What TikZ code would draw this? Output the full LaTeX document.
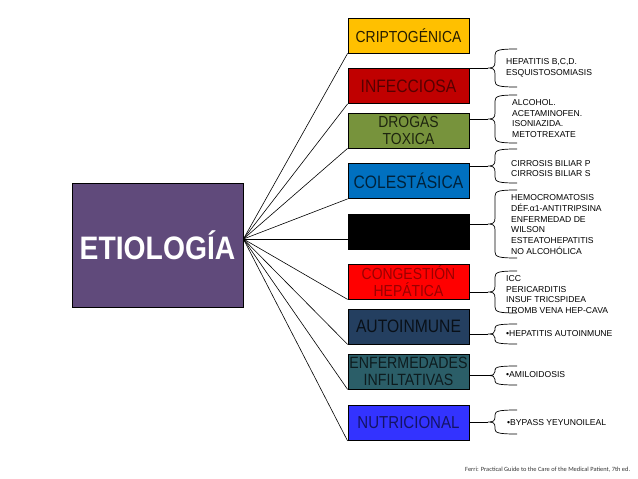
\documentclass[tikz,border=0pt]{standalone}
\usepackage{fontspec}
\setmainfont{Liberation Sans}
\newfontfamily\boxfont{Liberation Sans}[FakeStretch=0.87]
\newfontfamily\notefont{Carlito}

\definecolor{etioCol}{HTML}{604A7B}
\definecolor{criptoCol}{HTML}{FFC000}
\definecolor{infecCol}{HTML}{C00000}
\definecolor{drogasCol}{HTML}{77933C}
\definecolor{colesCol}{HTML}{0070C0}
\definecolor{congCol}{HTML}{FF0000}
\definecolor{autoCol}{HTML}{243F60}
\definecolor{enfCol}{HTML}{2B5E68}
\definecolor{nutriCol}{HTML}{3333FF}

% left brace: name of tip, top, bottom, curl
\newcommand{\hBrace}[4]{%
  \pgfmathsetmacro{\brMid}{(#2+#3)/2}
  \coordinate (#1) at (488,\brMid);
  \draw[brc] (517,#2) .. controls (499,#2) and (495,#2+1) .. (495,#2+#4)
    -- (495,\brMid-#4) .. controls (495,\brMid-1) and (493,\brMid) .. (#1)
    .. controls (493,\brMid) and (495,\brMid+1) .. (495,\brMid+#4)
    -- (495,#3-#4) .. controls (495,#3-1) and (499,#3) .. (517,#3);
}

\begin{document}
\begin{tikzpicture}[x=1pt,y=-1pt,
  catbox/.style={draw=black, line width=0.8pt, minimum width=121pt, minimum height=35pt,
    inner sep=0pt, align=center, font=\boxfont\fontsize{16}{17}\selectfont},
  note/.style={anchor=west, align=left, inner sep=0pt, font=\fontsize{8.6}{10.8}\selectfont},
  link/.style={line width=0.6pt},
  brc/.style={line width=0.7pt}]
\useasboundingbox (0,0) rectangle (638,479);

\node[draw=black, line width=0.8pt, fill=etioCol, text=white, minimum width=171pt, minimum height=124pt,
  inner sep=0pt, font=\boxfont\bfseries\fontsize{32.5}{34}\selectfont] (etio) at (157.5,245) {ETIOLOGÍA};
\coordinate (hub) at ([yshift=6pt]etio.east);

\node[catbox, fill=criptoCol, text=criptoCol!15!black] (cripto) at (408.5,35.5) {CRIPTOGÉNICA};
\node[catbox, fill=infecCol, text=infecCol!45!black, font=\boxfont\fontsize{18}{19}\selectfont] (infec) at (408.5,86) {INFECCIOSA};
\node[catbox, fill=drogasCol, text=drogasCol!25!black] (drogas) at (408.5,130.5) {DROGAS\\TOXICA};
\node[catbox, fill=colesCol, text=colesCol!30!black, font=\boxfont\fontsize{18}{19}\selectfont] (coles) at (408.5,181) {COLESTÁSICA};
\node[catbox, fill=black] (blk) at (408.5,231.5) {};
\node[catbox, fill=congCol, text=congCol!60!black] (cong) at (408.5,281.5) {CONGESTIÓN\\HEPÁTICA};
\node[catbox, fill=autoCol, text=autoCol!25!black, font=\boxfont\fontsize{18}{19}\selectfont] (auto) at (408.5,326.5) {AUTOINMUNE};
\node[catbox, fill=enfCol, text=enfCol!30!black, font=\boxfont\fontsize{16.3}{17}\selectfont] (enf) at (408.5,371.5) {ENFERMEDADES\\INFILTATIVAS};
\node[catbox, fill=nutriCol, text=nutriCol!40!black, font=\boxfont\fontsize{17.3}{18}\selectfont] (nutri) at (408.5,423) {NUTRICIONAL};

% etiologia to each group
\draw[link] (hub) -- (cripto.south west);
\draw[link] (hub) -- (infec.south west);
\draw[link] (hub) -- (drogas.south west);
\draw[link] (hub) -- (coles.south west);
\draw[link] (hub) -- (blk.west |- hub);
\draw[link] (hub) -- (cong.south west);
\draw[link] (hub) -- (auto.south west);
\draw[link] (hub) -- (enf.south west);
\draw[link] (hub) -- (nutri.south west);

% braces
\hBrace{tInfec}{49}{87}{6}
\hBrace{tDrogas}{95}{143}{6}
\hBrace{tColes}{149}{183}{6}
\hBrace{tBlk}{190}{258}{6}
\hBrace{tCong}{271}{313}{6}
\hBrace{tAuto}{324}{344}{4}
\hBrace{tEnf}{366}{385}{4}
\hBrace{tNutri}{410}{434}{5}

\draw[link] (infec.east |- tInfec) -- (tInfec);
\draw[link] (drogas.east |- tDrogas) -- (tDrogas);
\draw[link] (coles.east |- tColes) -- (tColes);
\draw[link] (blk.east |- tBlk) -- (tBlk);
\draw[link] (cong.east |- tCong) -- (tCong);
\draw[link] (auto.east |- tAuto) -- (tAuto);
\draw[link] (enf.east |- tEnf) -- (tEnf);
\draw[link] (nutri.east |- tNutri) -- (tNutri);

\node[note] (nInfec) at (506,67.5) {HEPATITIS B,C,D.\\ESQUISTOSOMIASIS};
\node[note] (nDrogas) at (512,118.5) {ALCOHOL.\\ACETAMINOFEN.\\ISONIAZIDA.\\METOTREXATE};
\node[note] (nColes) at (511,168.5) {CIRROSIS BILIAR P\\CIRROSIS BILIAR S};
\node[note] (nBlk) at (511,224.5) {HEMOCROMATOSIS\\DÉF.α1-ANTITRIPSINA\\ENFERMEDAD DE\\WILSON\\ESTEATOHEPATITIS\\NO ALCOHÓLICA};
\node[note] (nCong) at (506,294.5) {ICC\\PERICARDITIS\\INSUF TRICSPIDEA\\TROMB VENA HEP-CAVA};
\node[note] (nAuto) at (506,333.5) {•HEPATITIS AUTOINMUNE};
\node[note] (nEnf) at (506,374.5) {•AMILOIDOSIS};
\node[note] (nNutri) at (507,423) {•BYPASS YEYUNOILEAL};

\node[anchor=west, inner sep=0pt, text=black!80, font=\notefont\fontsize{6.4}{7}\selectfont] (ref) at (465,470)
  {Ferri: Practical Guide to the Care of the Medical Patient, 7th ed.};
\end{tikzpicture}
\end{document}
